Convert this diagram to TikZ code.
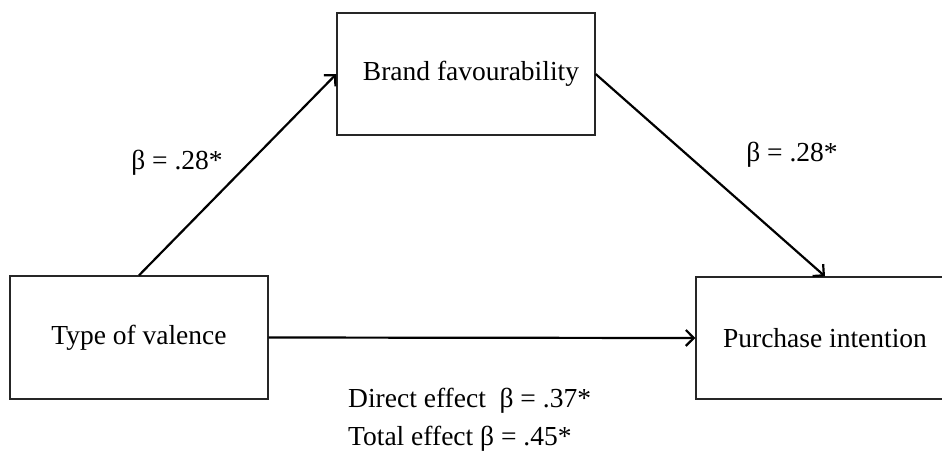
\documentclass[tikz,border=0pt]{standalone}
\usepackage{fontspec}
\setmainfont{Liberation Serif}
\usetikzlibrary{arrows.meta}
\begin{document}
\begin{tikzpicture}[x=1pt,y=-1pt,
  box/.style={draw=black!85,line width=1.3pt,inner sep=0pt,font=\fontsize{27.5}{33}\selectfont},
  lbl/.style={inner sep=0pt,font=\fontsize{27.5}{33}\selectfont},
  arr/.style={line width=2.2pt,-{Straight Barb[length=8pt,width=16pt,line width=2.2pt]}}]
\useasboundingbox (0,0) rectangle (942,451);
\clip (0,0) rectangle (942,451);
\node[box,minimum width=258pt,minimum height=122pt] (bf) at (466,74) {\hspace{10pt}Brand favourability};
\node[box,minimum width=258pt,minimum height=123pt] (tv) at (139,337.5) {Type of valence\hspace{7pt}};
\node[box,minimum width=258pt,minimum height=122pt] (pi) at (825,338) {Purchase intention};
\draw[arr] (tv.north) -- (bf.west);
\draw[arr] (bf.east) -- (pi.north);
\draw[arr] (tv.east) -- (pi.west);
\node[lbl] (l1) at (177,163) {β = .28*};
\node[lbl] (l2) at (792,155) {β = .28*};
\node[lbl,anchor=base west] (d) at (348,407) {Direct effect\ \ β = .37*};
\node[lbl,anchor=base west] (t) at (348,445) {Total effect β = .45*};
\end{tikzpicture}
\end{document}
